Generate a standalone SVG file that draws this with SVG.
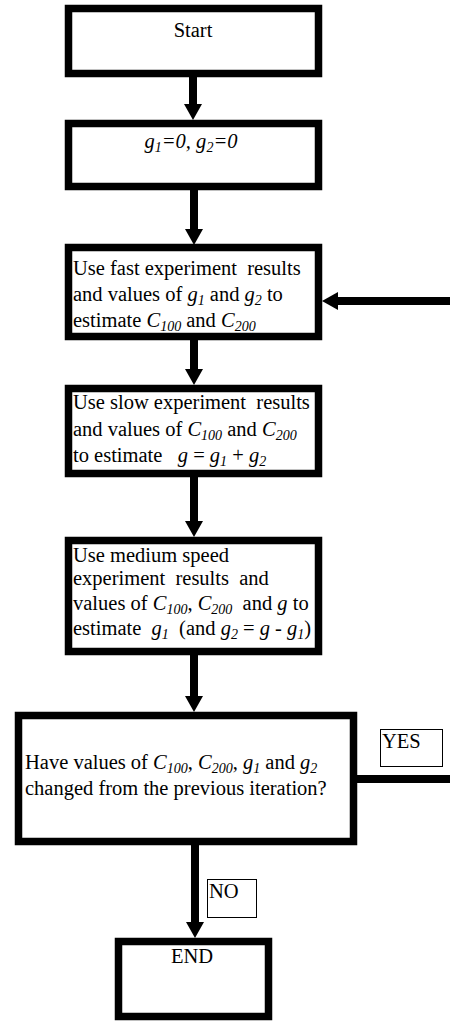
<svg xmlns="http://www.w3.org/2000/svg" width="450" height="1021" viewBox="0 0 450 1021">
<style>
.box{fill:#fff;stroke:#000;stroke-width:7.5}
.lbl{fill:#fff;stroke:#000;stroke-width:1}
.conn{stroke:#000;stroke-width:8;fill:none}
text{font-family:"Liberation Serif","Times New Roman",serif;font-size:20.5px;fill:#000;white-space:pre}
.i{font-style:italic}
.s{font-style:italic;font-size:14px}
</style>
<defs>
<marker id="ah" markerUnits="userSpaceOnUse" markerWidth="16" markerHeight="18" viewBox="0 0 16 18" refX="4" refY="9" orient="auto">
<path d="M0,0 L16,9 L0,18 Z" fill="#000"/>
</marker>
</defs>
<rect width="450" height="1021" fill="#fff"/>
<g id="connectors">
<line class="conn" x1="193" y1="77" x2="193" y2="108" marker-end="url(#ah)"/>
<line class="conn" x1="194" y1="190" x2="194" y2="233" marker-end="url(#ah)"/>
<line class="conn" x1="194" y1="340" x2="194" y2="373" marker-end="url(#ah)"/>
<line class="conn" x1="194" y1="477" x2="194" y2="525" marker-end="url(#ah)"/>
<line class="conn" x1="194" y1="655" x2="194" y2="700" marker-end="url(#ah)"/>
<line class="conn" x1="195" y1="845" x2="195" y2="926" marker-end="url(#ah)"/>
<line class="conn" x1="450" y1="301" x2="334" y2="301" marker-end="url(#ah)"/>
<line class="conn" x1="357" y1="779" x2="450" y2="779"/>
</g>
<g id="start">
<rect class="box" x="68.5" y="8.5" width="250" height="65"/>
<text x="193" y="37" text-anchor="middle">Start</text>
</g>
<g id="init">
<rect class="box" x="68.5" y="123.5" width="250" height="63"/>
<text x="191" y="148" text-anchor="middle"><tspan class="i">g</tspan><tspan class="s" dy="4">1</tspan><tspan class="i" dy="-4">=0, g</tspan><tspan class="s" dy="4">2</tspan><tspan class="i" dy="-4">=0</tspan></text>
</g>
<g id="fast">
<rect class="box" x="68.5" y="247.5" width="250" height="89"/>
<text x="73" y="275">Use fast experiment  results</text>
<text x="73" y="301">and values of <tspan class="i">g</tspan><tspan class="s" dy="4">1</tspan><tspan dy="-4"> and </tspan><tspan class="i">g</tspan><tspan class="s" dy="4">2</tspan><tspan dy="-4"> to</tspan></text>
<text x="73" y="327">estimate <tspan class="i">C</tspan><tspan class="s" dy="4">100</tspan><tspan dy="-4"> and </tspan><tspan class="i">C</tspan><tspan class="s" dy="4">200</tspan></text>
</g>
<g id="slow">
<rect class="box" x="68.5" y="388.5" width="250" height="85"/>
<text x="73" y="409">Use slow experiment  results</text>
<text x="73" y="436">and values of <tspan class="i">C</tspan><tspan class="s" dy="4">100</tspan><tspan dy="-4"> and </tspan><tspan class="i">C</tspan><tspan class="s" dy="4">200</tspan></text>
<text x="73" y="462">to estimate   <tspan class="i">g</tspan> = <tspan class="i">g</tspan><tspan class="s" dy="4">1</tspan><tspan dy="-4"> + </tspan><tspan class="i">g</tspan><tspan class="s" dy="4">2</tspan></text>
</g>
<g id="medium">
<rect class="box" x="68.5" y="540.5" width="250" height="111"/>
<text x="73" y="562">Use medium speed</text>
<text x="73" y="585">experiment  results  and</text>
<text x="73" y="610">values of <tspan class="i">C</tspan><tspan class="s" dy="4">100</tspan><tspan dy="-4">, </tspan><tspan class="i">C</tspan><tspan class="s" dy="4">200</tspan><tspan dy="-4">  and </tspan><tspan class="i">g</tspan> to</text>
<text x="73" y="635">estimate  <tspan class="i">g</tspan><tspan class="s" dy="4">1</tspan><tspan dy="-4">  (and </tspan><tspan class="i">g</tspan><tspan class="s" dy="4">2</tspan><tspan dy="-4"> = </tspan><tspan class="i">g</tspan> - <tspan class="i">g</tspan><tspan class="s" dy="4">1</tspan><tspan dy="-4">)</tspan></text>
</g>
<g id="decision">
<rect class="box" x="18.5" y="715.5" width="335" height="126"/>
<text x="25" y="769">Have values of <tspan class="i">C</tspan><tspan class="s" dy="4">100</tspan><tspan dy="-4">, </tspan><tspan class="i">C</tspan><tspan class="s" dy="4">200</tspan><tspan dy="-4">, </tspan><tspan class="i">g</tspan><tspan class="s" dy="4">1</tspan><tspan dy="-4"> and </tspan><tspan class="i">g</tspan><tspan class="s" dy="4">2</tspan></text>
<text x="25" y="795">changed from the previous iteration?</text>
</g>
<g id="yes">
<rect class="lbl" x="380.5" y="729.5" width="62" height="37"/>
<text x="382" y="748">YES</text>
</g>
<g id="no">
<rect class="lbl" x="207.5" y="879.5" width="49" height="38"/>
<text x="209" y="898">NO</text>
</g>
<g id="end">
<rect class="box" x="118.5" y="941.5" width="150" height="75"/>
<text x="192" y="963" text-anchor="middle">END</text>
</g>
</svg>
